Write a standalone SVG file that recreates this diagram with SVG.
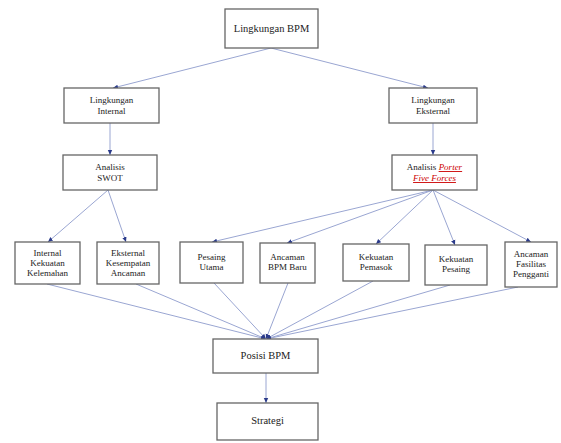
<svg xmlns="http://www.w3.org/2000/svg" width="561" height="443" viewBox="0 0 561 443">
<style>
.box{fill:#fff;stroke:#666;stroke-width:1.3}
.t{font-family:"Liberation Serif",serif;font-size:9px;fill:#222;text-anchor:middle}
.big{font-size:10.5px}
.red{fill:#c00;font-style:italic;text-decoration:underline}
.c line{stroke:#9aa6d2;stroke-width:1;marker-end:url(#a)}
</style>
<defs>
<marker id="a" markerWidth="6" markerHeight="6" refX="5" refY="3" orient="auto" markerUnits="userSpaceOnUse">
<path d="M0,0.8 L5,3 L0,5.2 Z" fill="#2a3a8a"/>
</marker>
</defs>
<rect width="561" height="443" fill="#fff"/>
<g class="c">
<line x1="271" y1="48" x2="113" y2="88"/>
<line x1="271" y1="48" x2="428" y2="88"/>
<line x1="110" y1="123" x2="110" y2="155"/>
<line x1="433" y1="123" x2="433" y2="155"/>
<line x1="108" y1="190" x2="48" y2="242"/>
<line x1="108" y1="190" x2="126" y2="242"/>
<line x1="433" y1="190" x2="212" y2="242"/>
<line x1="433" y1="190" x2="287" y2="243"/>
<line x1="433" y1="190" x2="376" y2="244"/>
<line x1="433" y1="190" x2="455" y2="245"/>
<line x1="433" y1="190" x2="531" y2="242"/>
<line x1="47" y1="284" x2="266" y2="339"/>
<line x1="136" y1="284" x2="266" y2="339"/>
<line x1="214" y1="283" x2="266" y2="339"/>
<line x1="288" y1="283" x2="266" y2="339"/>
<line x1="373" y1="281" x2="266" y2="339"/>
<line x1="450" y1="285" x2="266" y2="339"/>
<line x1="518" y1="287" x2="266" y2="339"/>
<line x1="266" y1="373" x2="266" y2="403"/>
</g>
<g id="n-bpm"><rect class="box" x="225" y="9" width="93" height="39"/><text class="t big" x="271.5" y="32">Lingkungan BPM</text></g>
<g id="n-internal"><rect class="box" x="64" y="88" width="95" height="35"/><text class="t" x="111.5" y="103">Lingkungan</text><text class="t" x="111.5" y="114">Internal</text></g>
<g id="n-eksternal"><rect class="box" x="389" y="88" width="88" height="35"/><text class="t" x="433" y="103">Lingkungan</text><text class="t" x="433" y="114">Eksternal</text></g>
<g id="n-swot"><rect class="box" x="63" y="155" width="94" height="35"/><text class="t" x="110" y="170">Analisis</text><text class="t" x="110" y="181">SWOT</text></g>
<g id="n-porter"><rect class="box" x="392" y="155" width="85" height="35"/><text class="t" x="434.5" y="170">Analisis <tspan class="red">Porter</tspan></text><text class="t red" x="434.5" y="181">Five Forces</text></g>
<g id="n-kk"><rect class="box" x="15" y="242" width="65" height="42"/><text class="t" x="47.5" y="256">Internal</text><text class="t" x="47.5" y="266">Kekuatan</text><text class="t" x="47.5" y="276">Kelemahan</text></g>
<g id="n-ka"><rect class="box" x="97" y="242" width="62" height="42"/><text class="t" x="128" y="256">Eksternal</text><text class="t" x="128" y="266">Kesempatan</text><text class="t" x="128" y="276">Ancaman</text></g>
<g id="n-pu"><rect class="box" x="180" y="242" width="63" height="41"/><text class="t" x="211.5" y="260">Pesaing</text><text class="t" x="211.5" y="270">Utama</text></g>
<g id="n-ab"><rect class="box" x="260" y="243" width="55" height="40"/><text class="t" x="287.5" y="260">Ancaman</text><text class="t" x="287.5" y="270">BPM Baru</text></g>
<g id="n-kp"><rect class="box" x="343" y="244" width="66" height="37"/><text class="t" x="376" y="260">Kekuatan</text><text class="t" x="376" y="270">Pemasok</text></g>
<g id="n-ks"><rect class="box" x="425" y="245" width="62" height="40"/><text class="t" x="456" y="262">Kekuatan</text><text class="t" x="456" y="272">Pesaing</text></g>
<g id="n-af"><rect class="box" x="505" y="242" width="52" height="45"/><text class="t" x="531" y="257">Ancaman</text><text class="t" x="531" y="267">Fasilitas</text><text class="t" x="531" y="277">Pengganti</text></g>
<g id="n-posisi"><rect class="box" x="213" y="339" width="105" height="34"/><text class="t big" x="265.5" y="359">Posisi BPM</text></g>
<g id="n-strategi"><rect class="box" x="217" y="403" width="101" height="37"/><text class="t big" x="267.5" y="424">Strategi</text></g>
</svg>
